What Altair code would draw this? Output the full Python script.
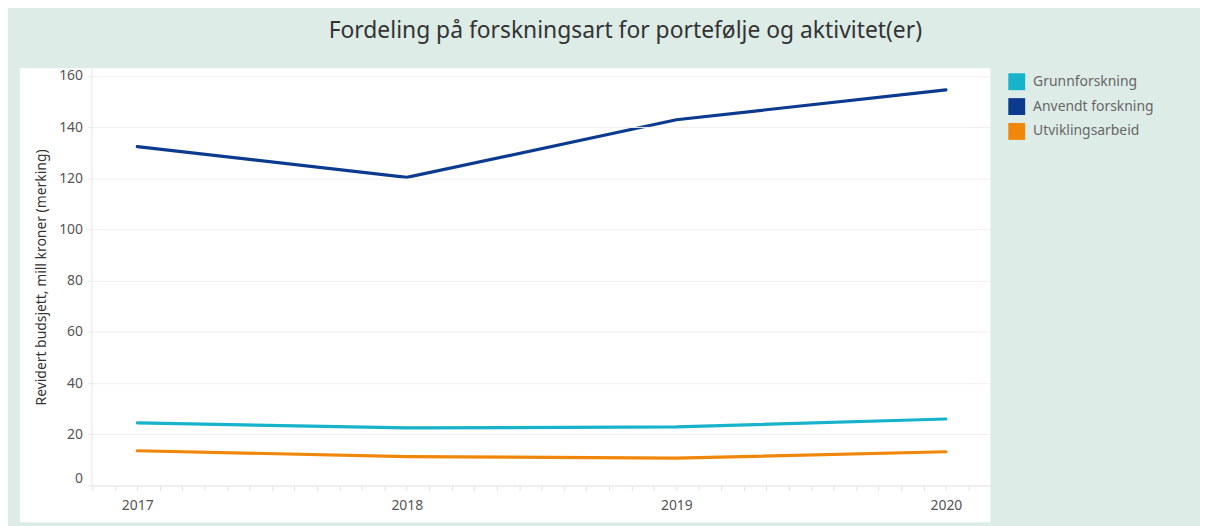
import altair as alt
import pandas as pd

# ---- data ----
years = [2017, 2018, 2019, 2020]
series_names = ["Grunnforskning", "Anvendt forskning", "Utviklingsarbeid"]
grunnforskning = [24.5, 22.5, 22.9, 26.0]
anvendt_forskning = [132.4, 120.4, 142.9, 154.6]
utviklingsarbeid = [13.6, 11.3, 10.7, 13.2]
series_colors = ["#17b3cb", "#0b3a8f", "#f0870a"]
y_tick_values = [0, 20, 40, 60, 80, 100, 120, 140, 160]

title_text = "Fordeling på forskningsart for portefølje og aktivitet(er)"
y_title = "Revidert budsjett, mill kroner (merking)"

rows = []
for name, vals in zip(series_names, [grunnforskning, anvendt_forskning, utviklingsarbeid]):
    for yr, v in zip(years, vals):
        rows.append({"Year": yr, "Series": name, "Value": v})
df = pd.DataFrame(rows)

# monthly tick positions (Tableau-style minor ticks)
x_tick_values = [round(2016 + m / 12, 4) for m in range(10, 12 * 4 + 2)]

FONT = "Noto Sans"
W, H = 905, 420

x_enc = alt.X(
    "Year:Q",
    scale=alt.Scale(domain=[2016.83, 2020.165], nice=False, zero=False),
    axis=alt.Axis(
        title=None,
        values=x_tick_values,
        labelExpr="datum.value % 1 === 0 ? format(datum.value, 'd') : ''",
        labelOverlap=False,
        grid=False,
        tickSize=5,
        tickColor="#e2e2e2",
        domainColor="#e6e6e6",
        labelPadding=8,
        labelFont=FONT,
        labelFontSize=14,
        labelColor="#555555",
        zindex=1,
    ),
)
y_enc = alt.Y(
    "Value:Q",
    scale=alt.Scale(domain=[0, 163], nice=False),
    axis=alt.Axis(
        title=y_title,
        values=y_tick_values,
        grid=True,
        gridColor="#efefef",
        tickSize=4,
        tickColor="#e6e6e6",
        domainColor="#e6e6e6",
        labelPadding=5,
        labelFont=FONT,
        labelFontSize=14,
        labelColor="#555555",
        labelBaseline={"condition": {"test": "datum.value === 0", "value": "bottom"}, "value": "middle"},
        titleFont=FONT,
        titleFontSize=14,
        titleFontWeight="normal",
        titleColor="#333333",
        titlePadding=10,
        zindex=1,
    ),
)

panel = alt.Chart(pd.DataFrame({"a": [0]})).mark_rect(color="white").encode(
    x=alt.value(-72), x2=alt.value(W), y=alt.value(0), y2=alt.value(H + 37)
)

base = alt.Chart(df)

# tiny squares hidden under the line vertices; they carry the filled-square legend
legend_layer = base.mark_square(filled=True, size=1).encode(
    x=x_enc,
    y=y_enc,
    fill=alt.Fill(
        "Series:N",
        scale=alt.Scale(domain=series_names, range=series_colors),
        legend=alt.Legend(
            title=None,
            orient="none",
            legendX=923,
            legendY=5,
            symbolType="square",
            symbolSize=289,
            symbolOpacity=1,
            symbolStrokeWidth=0,
            labelFont=FONT,
            labelFontSize=14,
            labelColor="#666666",
            rowPadding=8,
            labelOffset=8,
        ),
    ),
)

lines = base.mark_line(strokeWidth=3.2, strokeCap="round").encode(
    x=x_enc,
    y=y_enc,
    color=alt.Color(
        "Series:N",
        scale=alt.Scale(domain=series_names, range=series_colors),
        legend=None,
    ),
)

chart = (
    alt.layer(panel, legend_layer, lines)
    .properties(
        width=W,
        height=H,
        title=alt.TitleParams(
            title_text,
            font=FONT,
            fontSize=23,
            fontWeight="normal",
            color="#333333",
            anchor="middle",
            dx=85,
            offset=26,
        ),
        autosize=alt.AutoSizeParams(type="none"),
        padding={"left": 84, "top": 59, "right": 211, "bottom": 39},
        background="#deece8",
    )
    .configure_view(stroke="transparent")
)

chart.save("out.html", embed_options={"renderer": "svg", "actions": False})
